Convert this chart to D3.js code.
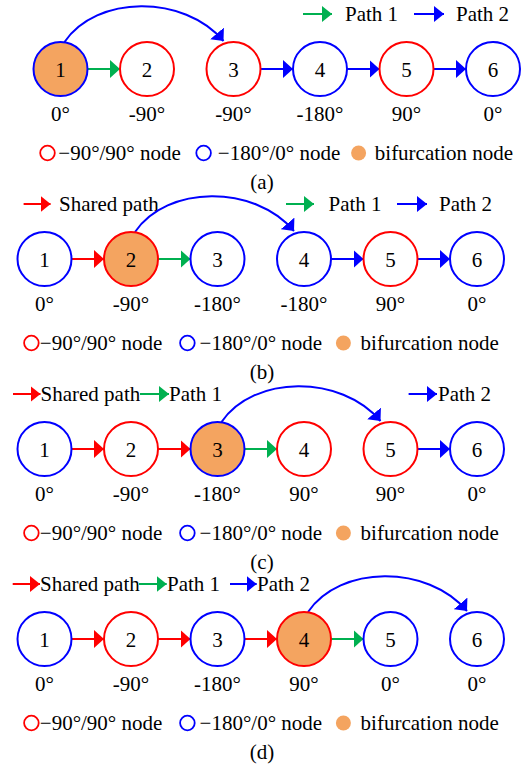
<!DOCTYPE html>
<html>
<head>
<meta charset="utf-8">
<script src="https://cdn.jsdelivr.net/npm/d3@7"></script>
<style>
  html, body { margin: 0; padding: 0; background: #fff; }
  svg { display: block; }
</style>
</head>
<body>
<div id="chart"></div>
<script>
// ---- data -------------------------------------------------------------
const panelNames = ["(a)", "(b)", "(c)", "(d)"];
const nodeIds = [1, 2, 3, 4, 5, 6];

// phase (degrees) of every node, one list per panel
const phasesA = [0, -90, -90, -180, 90, 0];
const phasesB = [0, -90, -180, -180, 90, 0];
const phasesC = [0, -90, -180, 90, 90, 0];
const phasesD = [0, -90, -180, 90, 0, 0];

// node where the two paths split, per panel
const bifurcationNodes = [1, 2, 3, 4];

// straight links between neighbouring nodes: [from, to, path]
const edgesA = [[1, 2, "path1"], [3, 4, "path2"], [4, 5, "path2"], [5, 6, "path2"]];
const edgesB = [[1, 2, "shared"], [2, 3, "path1"], [4, 5, "path2"], [5, 6, "path2"]];
const edgesC = [[1, 2, "shared"], [2, 3, "shared"], [3, 4, "path1"], [5, 6, "path2"]];
const edgesD = [[1, 2, "shared"], [2, 3, "shared"], [3, 4, "shared"], [4, 5, "path1"]];

// Path 2 jumps over one node: [from, to]
const jumpArcs = [[1, 3], [2, 4], [3, 5], [4, 6]];

// path legend entries shown above each panel
const pathKeys = ["shared", "path1", "path2"];
const pathLabels = ["Shared path", "Path 1", "Path 2"];
const pathLegendA = ["path1", "path2"];
const pathLegendB = ["shared", "path1", "path2"];
const pathLegendC = ["shared", "path1", "path2"];
const pathLegendD = ["shared", "path1", "path2"];

// node-type legend
const nodeLegendKeys = ["quadrature", "inphase", "bifurcation"];
const nodeLegendLabels = ["\u221290\u00b0/90\u00b0 node", "\u2212180\u00b0/0\u00b0 node", "bifurcation node"];

// ---- styling / layout --------------------------------------------------
const W = 531, H = 768;
const FONT = '"Liberation Serif", "Times New Roman", Times, serif';
const FS = 21;
const R = 27;
const colors = { shared: "#ff0000", path1: "#00b050", path2: "#0000ff" };
const RED = "#ff0000", BLUE = "#0000ff", ORANGE = "#f4a460";

const phaseLists = [phasesA, phasesB, phasesC, phasesD];
const edgeLists = [edgesA, edgesB, edgesC, edgesD];
const pathLegends = [pathLegendA, pathLegendB, pathLegendC, pathLegendD];

// horizontal placement tweaks per panel
const panelShift = [16, 0, 0, 0];
const pathLegendPos = [
  [{ x0: 303, x1: 332, tx: 345 }, { x0: 414, x1: 444, tx: 456 }],
  [{ x0: 23.6, x1: 50.6, tx: 59 }, { x0: 286, x1: 314, tx: 328.5 }, { x0: 397, x1: 427, tx: 439 }],
  [{ x0: 13, x1: 40.5, tx: 40.5 }, { x0: 140, x1: 169, tx: 169 }, { x0: 408.6, x1: 437, tx: 438 }],
  [{ x0: 12.7, x1: 40, tx: 40 }, { x0: 139, x1: 166.7, tx: 167 }, { x0: 230, x1: 256.7, tx: 257 }]
];
const nodeLegendPos = [
  { m: [47.5, 203.6, 358.6], t: [58.3, 217.8, 374.8] },
  { m: [31.4, 187.4, 343.4], t: [39.8, 199.6, 360.6] },
  { m: [31.4, 187.4, 343.4], t: [39.8, 199.6, 360.6] },
  { m: [31.4, 187.4, 343.4], t: [39.8, 199.6, 360.6] }
];

const x = d3.scalePoint().domain(nodeIds).range([44.5, 477]);
const y = d3.scalePoint().domain(panelNames).range([69, 639]);

const svg = d3.select("#chart").append("svg")
  .attr("width", W).attr("height", H)
  .style("font-family", FONT).style("font-size", FS + "px");

svg.append("rect").attr("width", W).attr("height", H).attr("fill", "#fff");

// arrowhead markers
const defs = svg.append("defs");
pathKeys.forEach(k => {
  defs.append("marker")
    .attr("id", "head-" + k)
    .attr("viewBox", "0 0 10 18")
    .attr("markerUnits", "userSpaceOnUse")
    .attr("markerWidth", 10).attr("markerHeight", 18)
    .attr("refX", 10).attr("refY", 9)
    .attr("orient", "auto")
    .append("path").attr("d", "M0,0L10,9L0,18Z").attr("fill", colors[k]);
  defs.append("marker")
    .attr("id", "lhead-" + k)
    .attr("viewBox", "0 0 10 16")
    .attr("markerUnits", "userSpaceOnUse")
    .attr("markerWidth", 10).attr("markerHeight", 16)
    .attr("refX", 10).attr("refY", 8)
    .attr("orient", "auto")
    .append("path").attr("d", "M0,0L10,8L0,16Z").attr("fill", colors[k]);
});

const nodeColor = p => (Math.abs(p) === 90 ? RED : BLUE);

panelNames.forEach((name, pi) => {
  const cy = y(name);
  const dx = panelShift[pi];
  const nx = id => x(id) + dx;
  const g = svg.append("g").attr("class", "panel");
  const phases = phaseLists[pi];

  // path legend
  const pl = g.append("g").attr("class", "path-legend");
  pathLegends[pi].forEach((key, i) => {
    const p = pathLegendPos[pi][i];
    pl.append("line")
      .attr("x1", p.x0).attr("x2", p.x1)
      .attr("y1", cy - 55).attr("y2", cy - 55)
      .attr("stroke", colors[key]).attr("stroke-width", 2)
      .attr("marker-end", "url(#lhead-" + key + ")");
    pl.append("text")
      .attr("x", p.tx).attr("y", cy - 48.5)
      .text(pathLabels[pathKeys.indexOf(key)]);
  });

  // straight links
  g.selectAll("line.edge").data(edgeLists[pi]).join("line")
    .attr("class", "edge")
    .attr("x1", d => nx(d[0]) + R).attr("x2", d => nx(d[1]) - R)
    .attr("y1", cy).attr("y2", cy)
    .attr("stroke", d => colors[d[2]]).attr("stroke-width", 2)
    .attr("marker-end", d => "url(#head-" + d[2] + ")");

  // Path 2 jump arc
  const [a, b] = jumpArcs[pi];
  const sx = nx(a) + 4, sy = cy - R;
  const ex = nx(b) - 10, ey = cy - R - 1;
  const span = ex - sx;
  const arc = d3.path();
  arc.moveTo(sx, sy);
  arc.bezierCurveTo(sx + 0.2 * span, sy - 47, ex - 0.25 * span, ey - 47, ex, ey);
  g.append("path").attr("d", arc.toString())
    .attr("fill", "none").attr("stroke", colors.path2).attr("stroke-width", 2)
    .attr("marker-end", "url(#head-path2)");

  // nodes
  const nodes = g.selectAll("g.node").data(nodeIds).join("g")
    .attr("class", "node")
    .attr("transform", d => `translate(${nx(d)},${cy})`);
  nodes.append("circle")
    .attr("r", R)
    .attr("fill", d => (d === bifurcationNodes[pi] ? ORANGE : "#fff"))
    .attr("stroke", (d, i) => nodeColor(phases[i]))
    .attr("stroke-width", 2);
  nodes.append("text")
    .attr("text-anchor", "middle").attr("y", 8)
    .text(d => d);
  nodes.append("text")
    .attr("text-anchor", "middle").attr("y", 51.5)
    .text((d, i) => phases[i] + "\u00b0");

  // node-type legend
  const nl = g.append("g").attr("class", "node-legend");
  const lp = nodeLegendPos[pi];
  nodeLegendKeys.forEach((k, i) => {
    const c = nl.append("circle").attr("cx", lp.m[i]).attr("cy", cy + 84);
    if (k === "bifurcation") {
      c.attr("r", 7.5).attr("fill", ORANGE);
    } else {
      c.attr("r", 7.3).attr("fill", "none")
        .attr("stroke", k === "quadrature" ? RED : BLUE).attr("stroke-width", 1.8);
    }
    nl.append("text").attr("x", lp.t[i]).attr("y", cy + 90.5).text(nodeLegendLabels[i]);
  });

  // panel caption
  g.append("text").attr("x", 262).attr("y", cy + 120)
    .attr("text-anchor", "middle").text(name);
});
</script>
</body>
</html>
